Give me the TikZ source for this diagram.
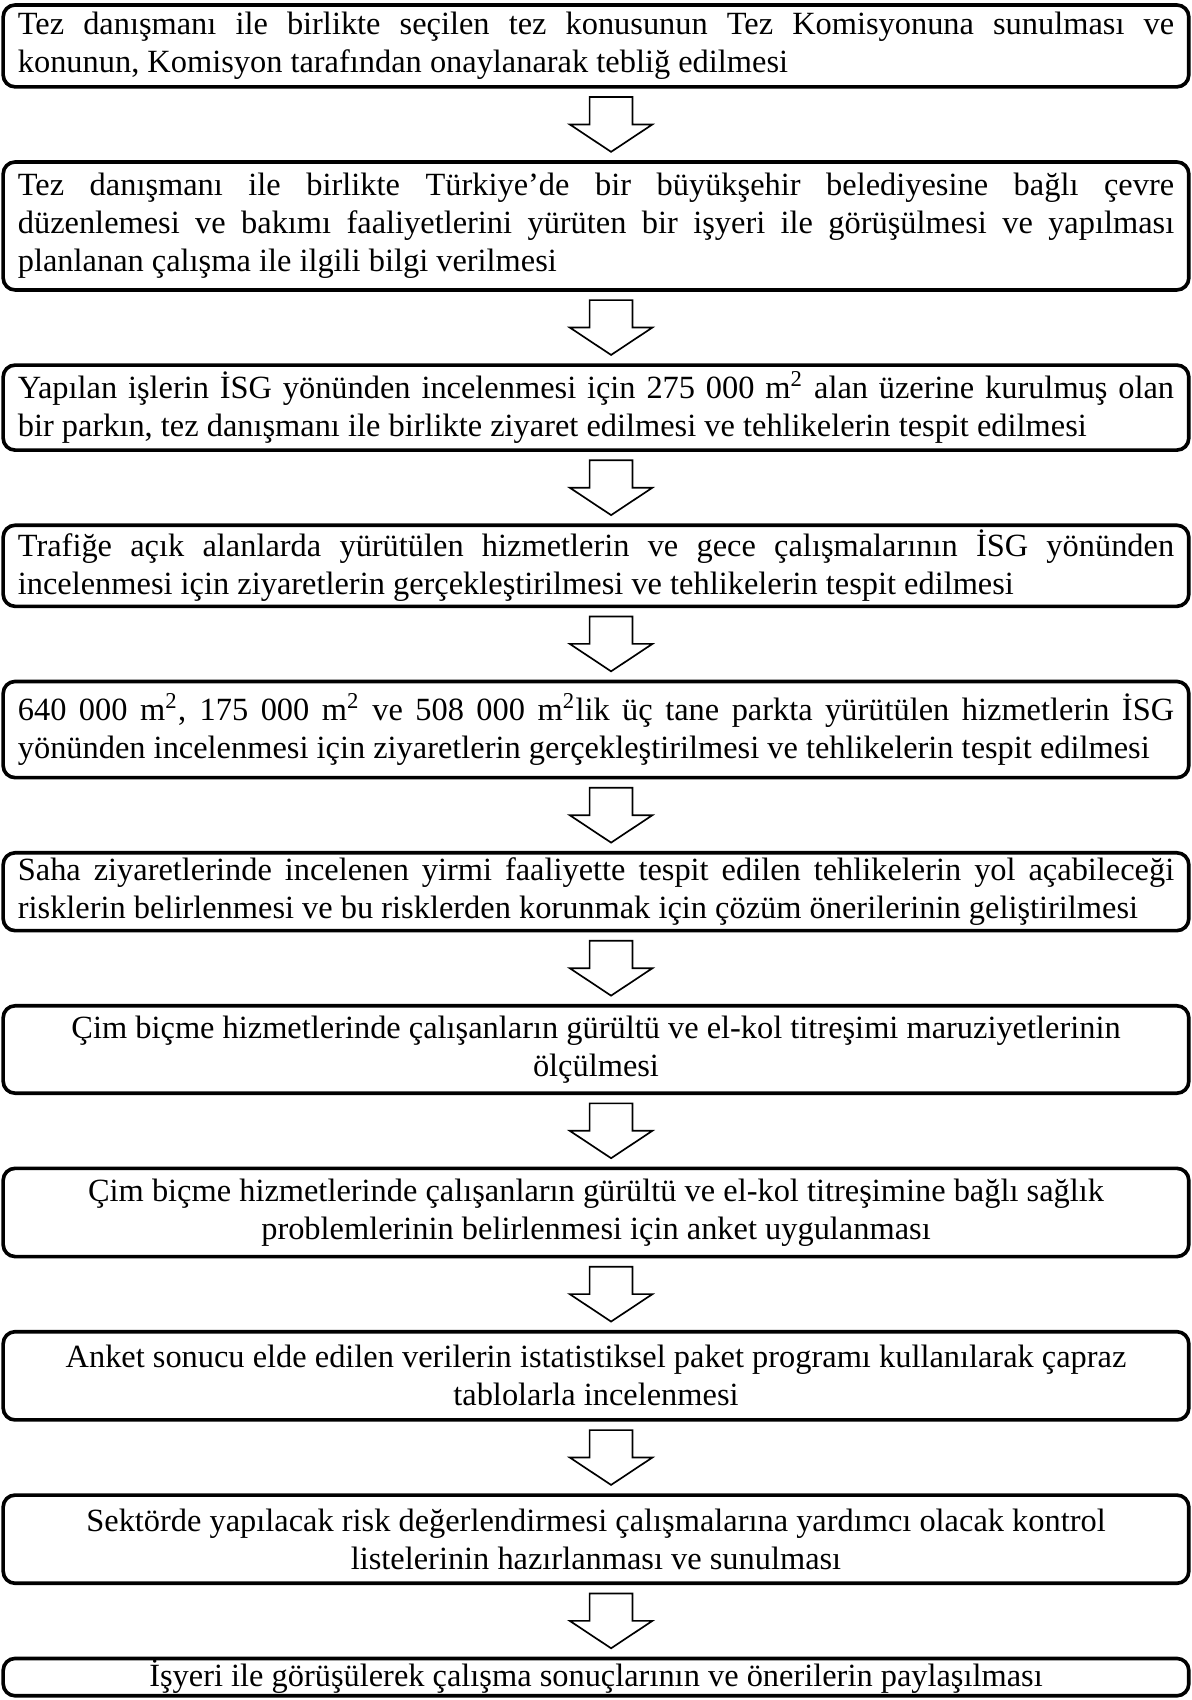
\documentclass[tikz,border=0pt]{standalone}
\usepackage{fontspec}
\setmainfont{Liberation Serif}
\usetikzlibrary{positioning, calc}
\hyphenpenalty=10000
\exhyphenpenalty=10000

\begin{document}
\begin{tikzpicture}[
    stepbox/.style={draw, line width=1.3pt, rounded corners=0.15cm,
      text width=14.55cm, inner xsep=0.185cm, inner ysep=0pt,
      minimum height=1.08cm, font=\fontsize{11.6}{13.6}\selectfont},
    justbox/.style={stepbox, align=justify},
    centbox/.style={stepbox, align=flush center},
    blockarrow/.style={draw, line width=0.6pt, fill=white},
    node distance=0.9cm
  ]
    \useasboundingbox (0,0) rectangle (15,-21.393);

    \node[justbox, minimum height=1.03cm, anchor=north] (b1) at (7.5,-0.04)
      {Tez danışmanı ile birlikte seçilen tez konusunun Tez Komisyonuna sunulması ve\linebreak
       konunun, Komisyon tarafından onaylanarak tebliğ edilmesi};
    \node[justbox, minimum height=1.61cm, below=of b1] (b2)
      {Tez danışmanı ile birlikte Türkiye’de bir büyükşehir belediyesine bağlı çevre\linebreak
       düzenlemesi ve bakımı faaliyetlerini yürüten bir işyeri ile görüşülmesi ve yapılması\linebreak
       planlanan çalışma ile ilgili bilgi verilmesi};
    \node[justbox, minimum height=1.07cm, below=of b2] (b3)
      {Yapılan işlerin İSG yönünden incelenmesi için 275~000 m\textsuperscript{2} alan üzerine kurulmuş olan\linebreak
       bir parkın, tez danışmanı ile birlikte ziyaret edilmesi ve tehlikelerin tespit edilmesi};
    \node[justbox, minimum height=1.02cm, below=of b3] (b4)
      {Trafiğe açık alanlarda yürütülen hizmetlerin ve gece çalışmalarının İSG yönünden\linebreak
       incelenmesi için ziyaretlerin gerçekleştirilmesi ve tehlikelerin tespit edilmesi};
    \node[justbox, minimum height=1.21cm, below=of b4] (b5)
      {640~000 m\textsuperscript{2}, 175~000 m\textsuperscript{2} ve 508~000 m\textsuperscript{2}lik üç tane parkta yürütülen hizmetlerin İSG\linebreak
       yönünden incelenmesi için ziyaretlerin gerçekleştirilmesi ve tehlikelerin tespit edilmesi};
    \node[justbox, minimum height=0.98cm, below=of b5] (b6)
      {Saha ziyaretlerinde incelenen yirmi faaliyette tespit edilen tehlikelerin yol açabileceği\linebreak
       risklerin belirlenmesi ve bu risklerden korunmak için çözüm önerilerinin geliştirilmesi};
    \node[centbox, minimum height=1.10cm, below=of b6] (b7)
      {Çim biçme hizmetlerinde çalışanların gürültü ve el-kol titreşimi maruziyetlerinin\\
       ölçülmesi};
    \node[centbox, minimum height=1.11cm, below=of b7] (b8)
      {Çim biçme hizmetlerinde çalışanların gürültü ve el-kol titreşimine bağlı sağlık\\
       problemlerinin belirlenmesi için anket uygulanması};
    \node[centbox, minimum height=1.11cm, below=of b8] (b9)
      {Anket sonucu elde edilen verilerin istatistiksel paket programı kullanılarak çapraz\\
       tablolarla incelenmesi};
    \node[centbox, minimum height=1.11cm, below=of b9] (b10)
      {Sektörde yapılacak risk değerlendirmesi çalışmalarına yardımcı olacak kontrol\\
       listelerinin hazırlanması ve sunulması};
    \node[centbox, minimum height=0.47cm, below=of b10] (b11)
      {İşyeri ile görüşülerek çalışma sonuçlarının ve önerilerin paylaşılması};

    % hollow block arrows between the steps
    \foreach \a/\b in {b1/b2, b2/b3, b3/b4, b4/b5, b5/b6, b6/b7, b7/b8, b8/b9, b9/b10, b10/b11} {
      \path ($(\a.south)!0.5!(\b.north)$) ++(0.19,0) coordinate (m);
      \draw[blockarrow] (m) ++(-0.27,0.345) -- ++(0.54,0) -- ++(0,-0.345) -- ++(0.25,0)
        -- ++(-0.52,-0.345) -- ++(-0.52,0.345) -- ++(0.25,0) -- cycle;
    }
\end{tikzpicture}
\end{document}
